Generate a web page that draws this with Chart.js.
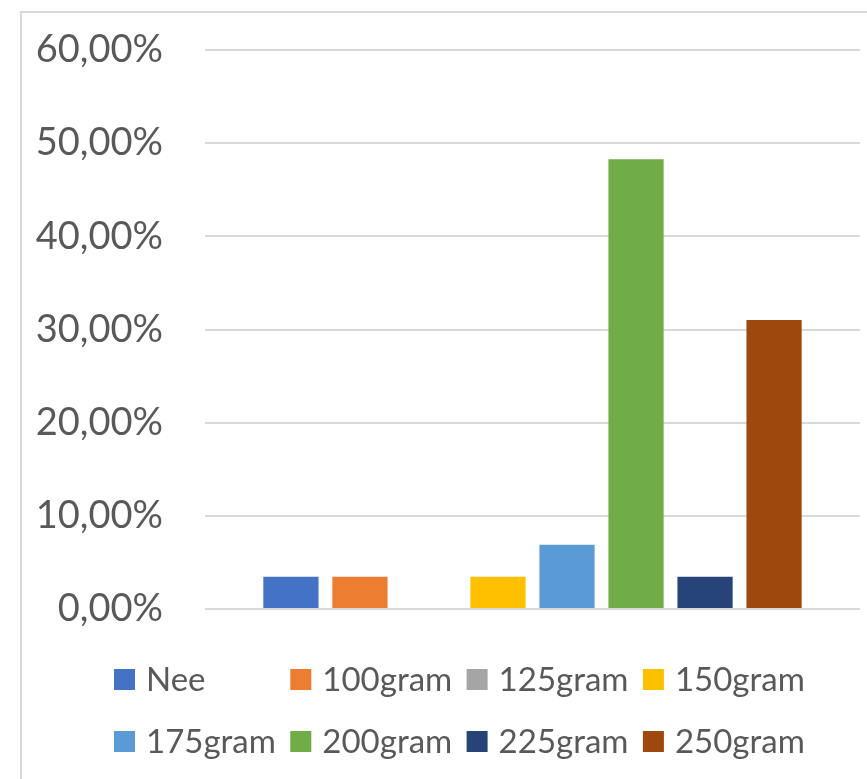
<!DOCTYPE html>
<html>
<head>
<meta charset="utf-8">
<script src="https://cdn.jsdelivr.net/npm/chart.js@4"></script>
<style>
  html, body { margin: 0; padding: 0; background: #ffffff; }
  #wrap { position: absolute; left: 0; top: 0; width: 867px; height: 779px; }
</style>
</head>
<body>
<div id="wrap"><canvas id="c"></canvas></div>
<script>
const categories = [''];
const seriesNames = ['Nee', '100gram', '125gram', '150gram', '175gram', '200gram', '225gram', '250gram'];
const seriesValues = [3.45, 3.45, 0, 3.45, 6.90, 48.28, 3.45, 31.03];
const seriesColors = ['#4472C4', '#ED7D31', '#A5A5A5', '#FFC000', '#5B9BD5', '#70AD47', '#264478', '#9E480E'];
const yTicks = [0, 10, 20, 30, 40, 50, 60];

const TEXT = '#595959';
const FONT = 'Lato';

const frame = {
  id: 'frame',
  beforeDraw(chart) {
    const ctx = chart.ctx;
    ctx.save();
    ctx.strokeStyle = '#D9D9D9';
    ctx.lineWidth = 2;
    ctx.beginPath();
    ctx.moveTo(21, chart.height + 5);
    ctx.lineTo(21, 12);
    ctx.lineTo(chart.width + 5, 12);
    ctx.stroke();
    ctx.restore();
  }
};

const gridLegend = {
  id: 'gridLegend',
  afterDraw(chart) {
    const ctx = chart.ctx;
    const cols = 4, x0 = 114, dx = 176.3, rowY = [669, 731], box = 21;
    ctx.save();
    ctx.font = '33px ' + FONT;
    ctx.textBaseline = 'middle';
    ctx.textAlign = 'left';
    chart.data.datasets.forEach((ds, i) => {
      const col = i % cols, row = Math.floor(i / cols);
      const x = x0 + col * dx, y = rowY[row];
      ctx.fillStyle = ds.backgroundColor;
      ctx.fillRect(x, y, box, box);
      ctx.fillStyle = TEXT;
      ctx.fillText(ds.label, x + 32, y + box / 2 + 1);
    });
    ctx.restore();
  }
};

new Chart(document.getElementById('c'), {
  type: 'bar',
  data: {
    labels: categories,
    datasets: seriesNames.map((name, i) => ({
      label: name,
      data: [seriesValues[i]],
      backgroundColor: seriesColors[i],
      borderWidth: 0,
      categoryPercentage: 0.843,
      barPercentage: 0.8
    }))
  },
  options: {
    responsive: true,
    maintainAspectRatio: false,
    animation: false,
    layout: { padding: { top: 50, right: 7, bottom: 170, left: 0 } },
    plugins: {
      legend: { display: false },
      tooltip: { enabled: false }
    },
    scales: {
      x: { display: false },
      y: {
        min: yTicks[0],
        max: yTicks[yTicks.length - 1],
        afterFit(scale) {
          scale.width = 205;
          scale.paddingTop = 0;
          scale.paddingBottom = 0;
        },
        afterBuildTicks(scale) { scale.ticks = yTicks.map(v => ({ value: v })); },
        border: { display: false },
        grid: { color: '#D9D9D9', lineWidth: 2, drawTicks: false },
        ticks: {
          padding: 42,
          color: TEXT,
          font: { family: FONT, size: 38 },
          callback: v => v.toFixed(2).replace('.', ',') + '%'
        }
      }
    }
  },
  plugins: [frame, gridLegend]
});
</script>
</body>
</html>
